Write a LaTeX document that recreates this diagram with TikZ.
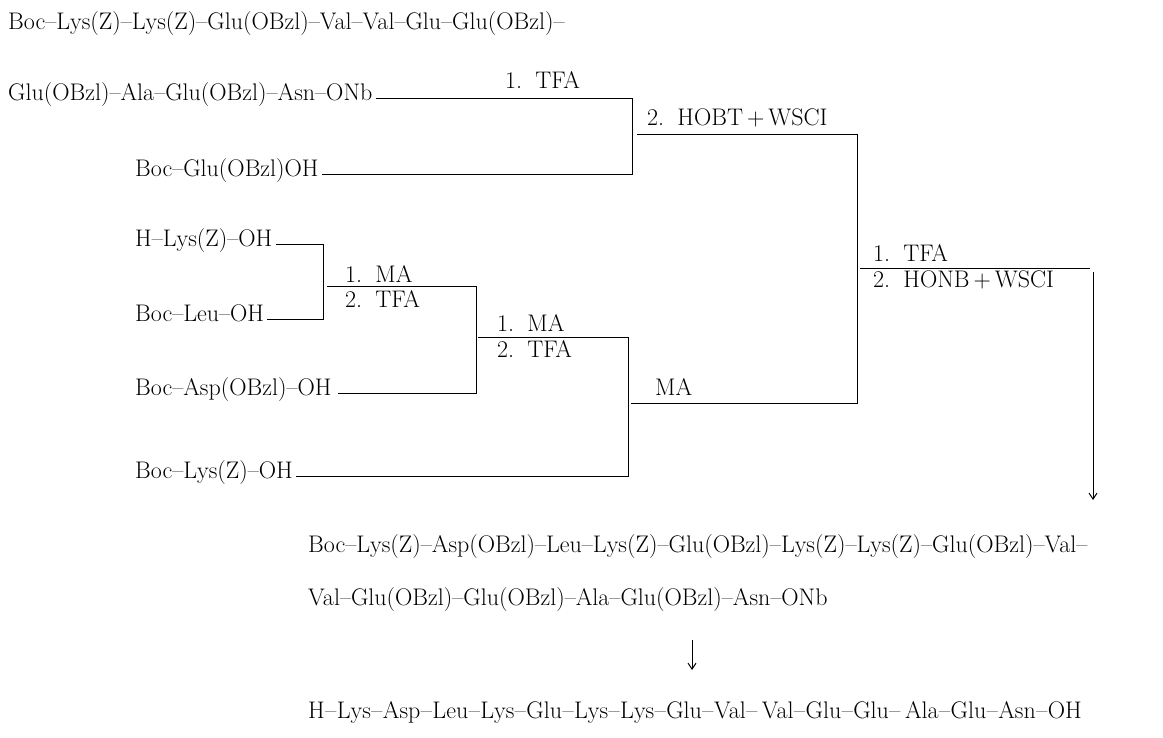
\documentclass[tikz,border=0pt]{standalone}
\usetikzlibrary{arrows.meta}
\newcommand{\nsp}{\hspace{0.55em}}
\newcommand{\dd}{\hspace{0.5pt}--\hspace{0.5pt}}
\begin{document}
\begin{tikzpicture}[x=1pt,y=-1pt,
  txt/.style={font=\fontsize{24}{28}\selectfont, inner sep=0pt, anchor=base west},
  ln/.style={line width=1pt},
  arr/.style={line width=1pt, -{Straight Barb[length=6pt,width=8pt]}}]
\useasboundingbox (0,0) rectangle (1163,738);
% texts
\node[txt] (l1) at (8,30) {Boc--Lys(Z)--Lys(Z)--Glu(OBzl)--Val--Val--Glu--Glu(OBzl)--};
\node[txt] (l2) at (8,101) {Glu(OBzl)--Ala--Glu(OBzl)--Asn--ONb};
\node[txt] (bg) at (135,177) {Boc--Glu(OBzl)OH};
\node[txt] (hl) at (135,247) {H--Lys(Z)--OH};
\node[txt] (bl) at (135,322) {Boc--Leu--OH};
\node[txt] (ba) at (135,395) {Boc--Asp(OBzl)--OH};
\node[txt] (bk) at (135,478) {Boc--Lys(Z)--OH};
\node[txt] (p1) at (308,552) {Boc--Lys(Z)--Asp(OBzl)--Leu--Lys(Z)--Glu(OBzl)--Lys(Z)--Lys(Z)--Glu(OBzl)--Val--};
\node[txt] (p2) at (308,605) {Val--Glu(OBzl)--Glu(OBzl)--Ala--Glu(OBzl)--Asn--ONb};
\node[txt] (p3) at (308,718) {H\dd Lys\dd Asp\dd Leu\dd Lys\dd Glu\dd Lys\dd Lys\dd Glu\dd Val\dd\,Val\dd Glu\dd Glu\dd\,Ala\dd Glu\dd Asn\dd OH};
% labels
\node[txt] (t1) at (505,89) {1.\nsp TFA};
\node[txt] (hb) at (647,126) {2.\nsp HOBT\,+\,WSCI};
\node[txt] (m1a) at (345,283) {1.\nsp MA};
\node[txt] (m1b) at (345,308) {2.\nsp TFA};
\node[txt] (m2a) at (497,332) {1.\nsp MA};
\node[txt] (m2b) at (497,357) {2.\nsp TFA};
\node[txt] (ma) at (655,395) {MA};
\node[txt] (t2) at (873,262) {1.\nsp TFA};
\node[txt] (hn) at (873,288) {2.\nsp HONB\,+\,WSCI};
% coordinates
\coordinate (A1) at (632,99);
\coordinate (A2) at (632,175);
\coordinate (B1) at (637,135);
\coordinate (B2) at (857,135);
\coordinate (B3) at (857,403);
\coordinate (B4) at (631,403);
\coordinate (C1) at (323,245);
\coordinate (C2) at (323,320);
\coordinate (C3) at (327,287);
\coordinate (C4) at (476,287);
\coordinate (C5) at (476,393);
\coordinate (D1) at (478,338);
\coordinate (D2) at (628,338);
\coordinate (D3) at (628,476);
\coordinate (E1) at (860,269);
\coordinate (E2) at (1090,269);
\coordinate (F1) at (1093,272);
\coordinate (F2) at (1093,500);
\coordinate (G1) at (692,640);
\coordinate (G2) at (692,670);
% connectors
\draw[ln] ([xshift=3pt]l2.base east |- A1) -- (A1) -- (A2) -- ([xshift=3pt]bg.base east |- A2);
\draw[ln] (B1) -- (B2) -- (B3) -- (B4);
\draw[ln] ([xshift=3pt]hl.base east |- C1) -- (C1) -- (C2) -- ([xshift=3pt]bl.base east |- C2);
\draw[ln] (C3) -- (C4) -- (C5) -- ([xshift=6pt]ba.base east |- C5);
\draw[ln] (D1) -- (D2) -- (D3) -- ([xshift=3pt]bk.base east |- D3);
\draw[ln] (E1) -- (E2);
\draw[arr] (F1) -- (F2);
\draw[arr] (G1) -- (G2);
\end{tikzpicture}
\end{document}
